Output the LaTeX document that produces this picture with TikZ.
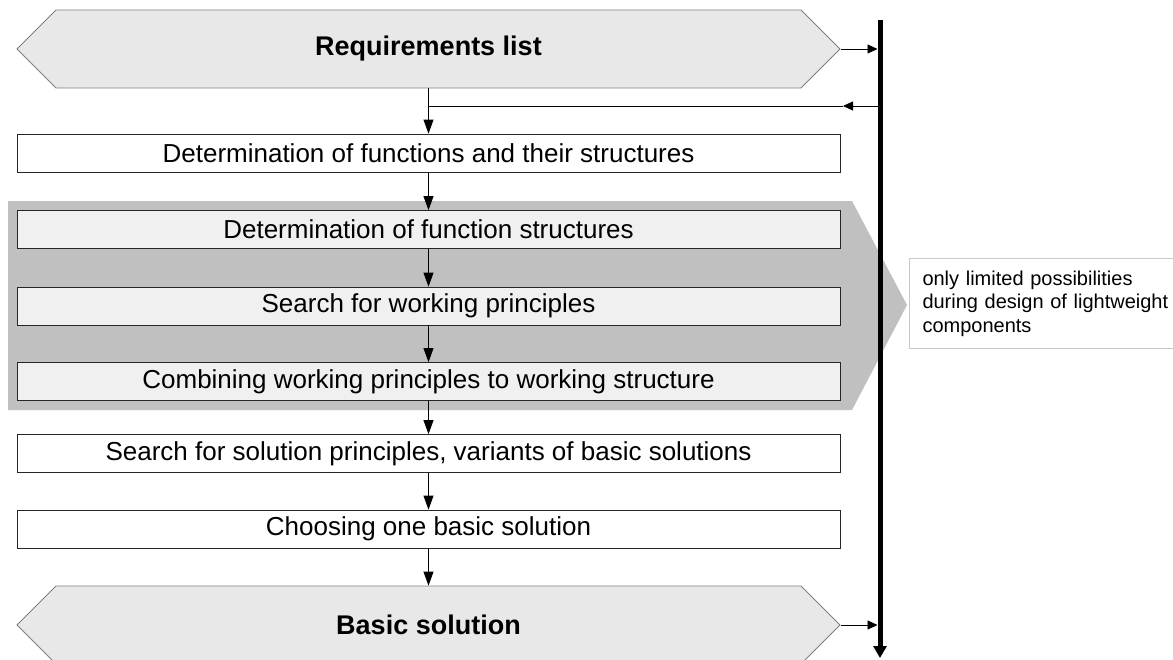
\documentclass[tikz,border=0pt]{standalone}
\usepackage{fontspec}
\setmainfont{Liberation Sans}
\usetikzlibrary{arrows.meta,shapes.symbols}

\definecolor{phasegray}{HTML}{C0C0C0}
\definecolor{endfill}{HTML}{E8E8E8}
\definecolor{innerfill}{HTML}{F0F0F0}
\definecolor{noteline}{HTML}{C8C8C8}

\tikzset{
  stepbox/.style={draw=black!85, line width=0.8pt, fill=white, minimum width=823pt,
    minimum height=38pt, inner sep=0pt, font=\fontsize{26}{30}\selectfont},
  innerbox/.style={stepbox, fill=innerfill},
  endbox/.style={signal, signal to=west and east, draw=black!50, line width=0.8pt,
    fill=endfill, minimum width=823pt, minimum height=78pt, inner sep=0pt,
    font=\bfseries\fontsize{27}{31}\selectfont},
  flow/.style={-{Triangle[length=14pt,width=10pt]}, line width=0.8pt},
  side/.style={-{Triangle[length=10pt,width=9pt]}, line width=0.8pt},
  notebox/.style={draw=noteline, line width=1pt, fill=white, anchor=north west,
    minimum height=90pt, text width=250pt, inner xsep=13pt, align=left,
    font=\fontsize{20}{23.5}\selectfont},
}

\begin{document}
\begin{tikzpicture}[x=1pt, y=-1pt]
    \useasboundingbox (0,0) rectangle (1173,659);

    % grey phase arrow
    \fill[phasegray] (8,201) -- (852,201) -- (907,305) -- (852,410) -- (8,410) -- cycle;

    \node[endbox] (req) at (428.5,49) {Requirements list};
    \node[stepbox] (f0) at (428.5,153) {Determination of functions and their structures};
    \node[innerbox] (f1) at (428.5,229.5) {Determination of function structures};
    \node[innerbox] (f2) at (428.5,306) {Search for working principles};
    \node[innerbox] (f3) at (428.5,381.5) {Combining working principles to working structure};
    \node[stepbox] (f4) at (428.5,453.5) {Search for solution principles, variants of basic solutions};
    \node[stepbox] (f5) at (428.5,529) {Choosing one basic solution};
    \node[endbox] (sol) at (428.5,625) {Basic solution};

    \node[notebox] (note) at (909,258) {only limited possibilities\\during design of lightweight\\components};

    % main flow
    \draw[flow] (req.south) -- (f0.north);
    \draw[flow] (f0.south) -- (f1.north);
    \draw[flow] (f1.south) -- (f2.north);
    \draw[flow] (f2.south) -- (f3.north);
    \draw[flow] (f3.south) -- (f4.north);
    \draw[flow] (f4.south) -- (f5.north);
    \draw[flow] (f5.south) -- (sol.north);

    % side bar with feedback
    \coordinate (bartop) at (880,20);
    \coordinate (barbot) at (880,658);
    \coordinate (fb) at (880,106);
    \coordinate (fbtip) at (843,106);
    \draw[-{Triangle[length=12pt,width=13pt]}, line width=5pt] (bartop) -- (barbot);
    \draw[side] (req.east) -- ([xshift=-2.5pt]req.east -| bartop);
    \draw[side] (sol.east) -- ([xshift=-2.5pt]sol.east -| bartop);
    \draw[side] (fb) -- (fbtip);
    \draw[line width=0.8pt] (fbtip) -- (req.south |- fb);
\end{tikzpicture}
\end{document}
